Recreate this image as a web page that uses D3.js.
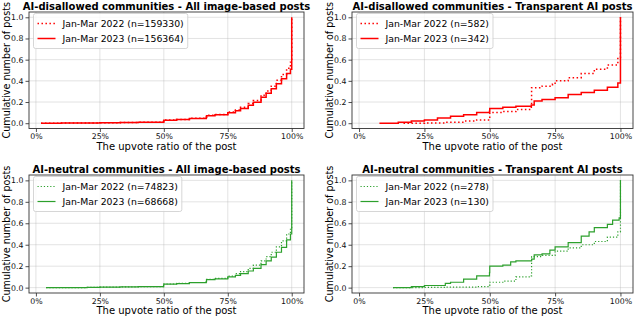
<!DOCTYPE html>
<html>
<head>
<meta charset="utf-8">
<script src="https://cdn.jsdelivr.net/npm/d3@7"></script>
<style>
  html, body { margin: 0; padding: 0; background: #fff; }
  svg { display: block; font-family: "DejaVu Sans", sans-serif; }
</style>
</head>
<body>
<svg id="chart" width="640" height="318"></svg>
<script>
// ---------- DATA ----------
const titles = [
  "AI-disallowed communities - All image-based posts",
  "AI-disallowed communities - Transparent AI posts",
  "AI-neutral communities - All image-based posts",
  "AI-neutral communities - Transparent AI posts"
];
const legend2022 = ["Jan-Mar 2022 (n=159330)", "Jan-Mar 2022 (n=582)", "Jan-Mar 2022 (n=74823)", "Jan-Mar 2022 (n=278)"];
const legend2023 = ["Jan-Mar 2023 (n=156364)", "Jan-Mar 2023 (n=342)", "Jan-Mar 2023 (n=68668)", "Jan-Mar 2023 (n=130)"];
const xTickValues = [0, 0.25, 0.5, 0.75, 1];
const xTickLabels = ["0%", "25%", "50%", "75%", "100%"];
const yTickValues = [0, 0.2, 0.4, 0.6, 0.8, 1.0];
const xLabel = "The upvote ratio of the post";
const yLabel = "Cumulative number of posts";

// [upvote ratio, cumulative share]
const disallowedAll2022 = [[0.02,0],[0.10,0.001],[0.20,0.003],[0.25,0.004],[0.33,0.007],[0.40,0.010],[0.499,0.015],[0.50,0.030],[0.55,0.036],[0.60,0.046],[0.666,0.056],[0.667,0.074],[0.70,0.082],[0.75,0.105],[0.78,0.125],[0.80,0.150],[0.83,0.185],[0.85,0.215],[0.88,0.265],[0.90,0.305],[0.92,0.350],[0.94,0.405],[0.96,0.460],[0.98,0.520],[0.995,0.575],[1.0,1.0]];
const disallowedAll2023 = [[0.02,0],[0.10,0.001],[0.20,0.003],[0.25,0.004],[0.33,0.007],[0.40,0.010],[0.499,0.015],[0.50,0.028],[0.55,0.034],[0.60,0.044],[0.666,0.054],[0.667,0.071],[0.70,0.079],[0.75,0.098],[0.78,0.118],[0.80,0.138],[0.83,0.170],[0.85,0.198],[0.88,0.245],[0.90,0.282],[0.92,0.325],[0.94,0.372],[0.96,0.420],[0.98,0.470],[0.995,0.510],[1.0,1.0]];
const disallowedAI2022 = [[0.17,0],[0.25,0.003],[0.33,0.010],[0.40,0.020],[0.45,0.030],[0.499,0.038],[0.50,0.100],[0.55,0.110],[0.60,0.130],[0.659,0.170],[0.66,0.335],[0.70,0.350],[0.74,0.370],[0.75,0.400],[0.80,0.430],[0.85,0.470],[0.90,0.510],[0.95,0.550],[0.99,0.620],[1.0,1.0]];
const disallowedAI2023 = [[0.078,0],[0.15,0.008],[0.20,0.020],[0.25,0.030],[0.30,0.050],[0.35,0.065],[0.40,0.080],[0.45,0.100],[0.499,0.112],[0.50,0.140],[0.55,0.150],[0.60,0.160],[0.659,0.172],[0.67,0.210],[0.70,0.225],[0.75,0.240],[0.80,0.270],[0.85,0.290],[0.90,0.310],[0.95,0.340],[0.99,0.380],[1.0,1.0]];
const neutralAll2022 = [[0.04,0],[0.10,0.001],[0.20,0.003],[0.25,0.004],[0.33,0.007],[0.40,0.010],[0.499,0.018],[0.50,0.034],[0.55,0.040],[0.60,0.048],[0.666,0.058],[0.667,0.078],[0.70,0.086],[0.75,0.108],[0.78,0.130],[0.80,0.150],[0.83,0.180],[0.85,0.210],[0.88,0.250],[0.90,0.290],[0.92,0.330],[0.94,0.380],[0.96,0.435],[0.98,0.500],[0.995,0.560],[1.0,1.0]];
const neutralAll2023 = [[0.04,0],[0.10,0.001],[0.20,0.003],[0.25,0.004],[0.33,0.007],[0.40,0.010],[0.499,0.018],[0.50,0.032],[0.55,0.038],[0.60,0.046],[0.666,0.055],[0.667,0.074],[0.70,0.082],[0.75,0.100],[0.78,0.115],[0.80,0.130],[0.83,0.155],[0.85,0.180],[0.88,0.215],[0.90,0.250],[0.92,0.285],[0.94,0.330],[0.96,0.375],[0.98,0.445],[0.995,0.500],[1.0,1.0]];
const neutralAI2022 = [[0.13,0],[0.25,0.002],[0.33,0.005],[0.45,0.010],[0.499,0.020],[0.50,0.050],[0.55,0.060],[0.599,0.070],[0.60,0.100],[0.659,0.110],[0.66,0.290],[0.70,0.300],[0.75,0.340],[0.80,0.370],[0.85,0.400],[0.90,0.430],[0.95,0.470],[0.99,0.520],[1.0,1.0]];
const neutralAI2023 = [[0.13,0],[0.20,0.010],[0.25,0.020],[0.33,0.040],[0.35,0.050],[0.40,0.080],[0.45,0.110],[0.499,0.140],[0.50,0.200],[0.55,0.210],[0.58,0.240],[0.60,0.250],[0.66,0.265],[0.67,0.305],[0.70,0.315],[0.73,0.350],[0.75,0.380],[0.80,0.420],[0.85,0.480],[0.88,0.520],[0.90,0.560],[0.95,0.590],[0.97,0.630],[0.995,0.650],[1.0,1.0]];

const series2022 = [disallowedAll2022, disallowedAI2022, neutralAll2022, neutralAI2022];
const series2023 = [disallowedAll2023, disallowedAI2023, neutralAll2023, neutralAI2023];
const colors = ["#ff0000", "#ff0000", "#2ca02c", "#2ca02c"];

// ---------- LAYOUT ----------
const panels = [
  {left: 29, right: 304, top: 12, bottom: 128.5, lw: 1.5},
  {left: 352, right: 633, top: 12, bottom: 128.5, lw: 1.5},
  {left: 29, right: 304, top: 175, bottom: 293, lw: 1.2},
  {left: 352, right: 633, top: 175, bottom: 293, lw: 1.2}
];

const svg = d3.select("#chart");

panels.forEach((p, i) => {
  const x = d3.scaleLinear().domain([-0.027, 1.048]).range([p.left, p.right]);
  const y = d3.scaleLinear().domain([-0.05, 1.05]).range([p.bottom, p.top]);
  const g = svg.append("g");

  // grid
  g.append("g").selectAll("line").data(xTickValues).join("line")
    .attr("x1", d => x(d)).attr("x2", d => x(d))
    .attr("y1", p.top).attr("y2", p.bottom)
    .attr("stroke", "#b0b0b0").attr("stroke-opacity", 0.45).attr("stroke-width", 0.8);
  g.append("g").selectAll("line").data(yTickValues).join("line")
    .attr("y1", d => y(d)).attr("y2", d => y(d))
    .attr("x1", p.left).attr("x2", p.right)
    .attr("stroke", "#b0b0b0").attr("stroke-opacity", 0.45).attr("stroke-width", 0.8);

  // axes
  const xAxis = d3.axisBottom(x).tickValues(xTickValues).tickFormat((d, k) => xTickLabels[k]).tickSizeInner(3.5).tickSizeOuter(0).tickPadding(1.5);
  const yAxis = d3.axisLeft(y).tickValues(yTickValues).tickFormat(d3.format(".1f")).tickSizeInner(3.5).tickSizeOuter(0).tickPadding(2);
  const gx = g.append("g").attr("transform", `translate(0,${p.bottom})`).call(xAxis);
  const gy = g.append("g").attr("transform", `translate(${p.left},0)`).call(yAxis);
  [gx, gy].forEach(a => {
    a.select(".domain").remove();
    a.selectAll(".tick line").attr("stroke", "#222").attr("stroke-width", 0.8);
    a.selectAll(".tick text").attr("fill", "#111").style("font-size", "7.8px").style("font-family", "DejaVu Sans");
  });

  // lines
  const line = d3.line().x(d => x(d[0])).y(d => y(d[1])).curve(d3.curveStepAfter);
  g.append("path").datum(series2022[i]).attr("d", line)
    .attr("fill", "none").attr("stroke", colors[i]).attr("stroke-width", p.lw)
    .attr("stroke-dasharray", `${p.lw},${p.lw * 1.65}`);
  g.append("path").datum(series2023[i]).attr("d", line)
    .attr("fill", "none").attr("stroke", colors[i]).attr("stroke-width", p.lw);

  // frame
  g.append("rect").attr("x", p.left).attr("y", p.top)
    .attr("width", p.right - p.left).attr("height", p.bottom - p.top)
    .attr("fill", "none").attr("stroke", "#333").attr("stroke-width", 0.9);

  // title
  g.append("text").attr("x", (p.left + p.right) / 2).attr("y", p.top - 2.5)
    .attr("text-anchor", "middle").style("font-weight", "bold").style("font-size", "10px")
    .attr("fill", "#000").text(titles[i]);

  // axis labels
  g.append("text").attr("x", (p.left + p.right) / 2).attr("y", p.bottom + 21)
    .attr("text-anchor", "middle").style("font-size", "10px").attr("fill", "#000").text(xLabel);
  g.append("text").attr("transform", `translate(${p.left - 19},${(p.top + p.bottom) / 2}) rotate(-90)`)
    .attr("text-anchor", "middle").style("font-size", "9.6px").attr("fill", "#000").text(yLabel);

  // legend
  const lx = p.left + 4.5, ly = p.top + 1.5;
  const lg = g.append("g").attr("transform", `translate(${lx},${ly})`);
  const labels = [legend2022[i], legend2023[i]];
  const tmp = lg.append("text").style("font-size", "9.3px").text(labels[0]);
  const w0 = tmp.node().getComputedTextLength();
  tmp.text(labels[1]);
  const w1 = tmp.node().getComputedTextLength();
  tmp.remove();
  const boxW = 29 + Math.max(w0, w1) + 4;
  lg.append("rect").attr("x", 0).attr("y", 0).attr("width", boxW).attr("height", 35)
    .attr("rx", 2).attr("fill", "#fff").attr("fill-opacity", 0.8).attr("stroke", "#cccccc").attr("stroke-width", 0.8);
  labels.forEach((lab, k) => {
    const cy = 10 + k * 15;
    lg.append("line").attr("x1", 4).attr("x2", 22).attr("y1", cy).attr("y2", cy)
      .attr("stroke", colors[i]).attr("stroke-width", p.lw)
      .attr("stroke-dasharray", k === 0 ? `${p.lw},${p.lw * 1.65}` : null);
    lg.append("text").attr("x", 29).attr("y", cy + 3.3).style("font-size", "9.3px")
      .attr("fill", "#000").text(lab);
  });
});
</script>
</body>
</html>
